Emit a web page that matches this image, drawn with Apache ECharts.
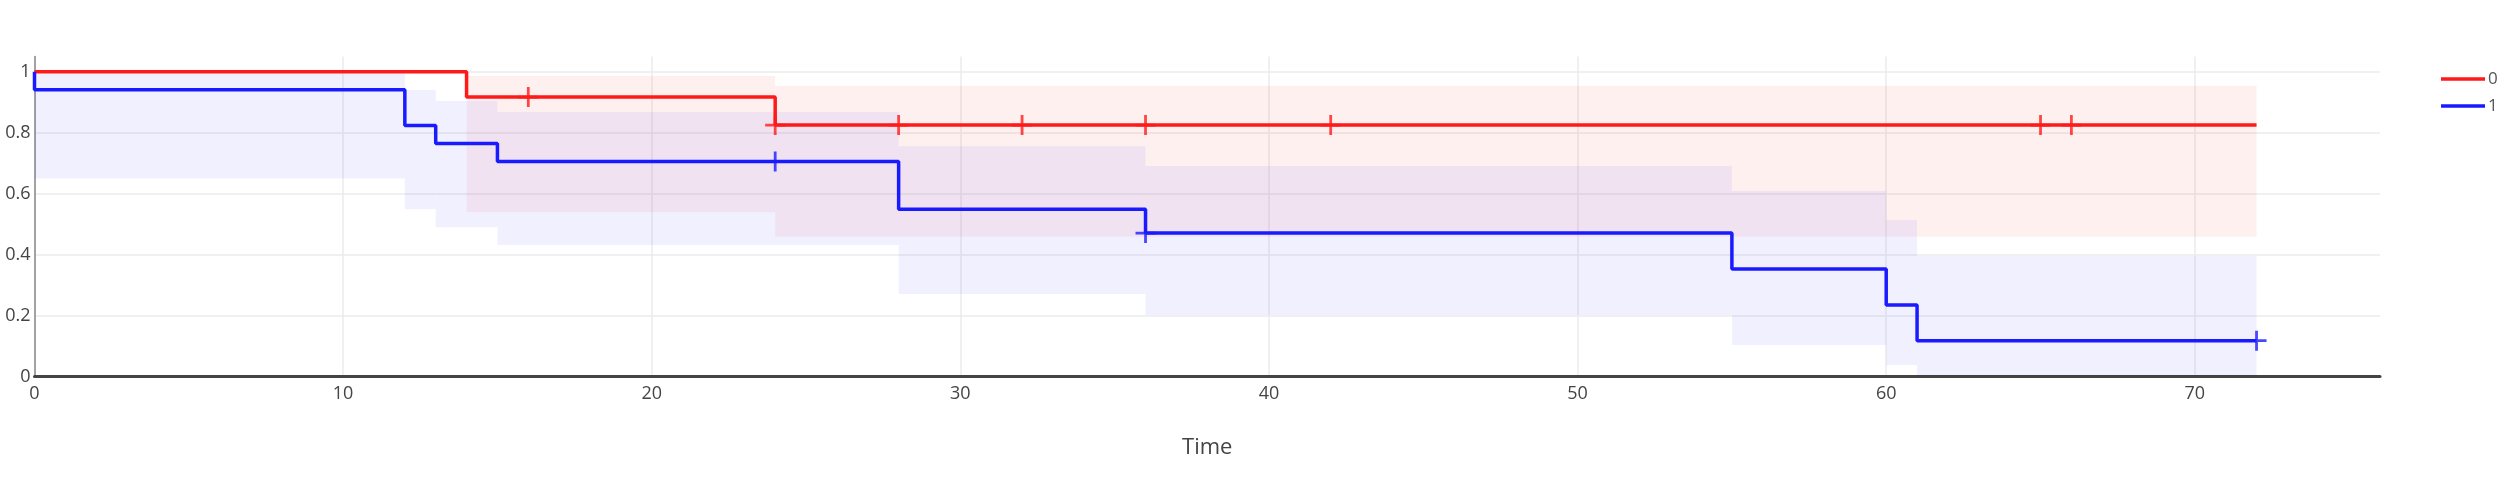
<!DOCTYPE html>
<html>
<head>
<meta charset="utf-8">
<title>Survival</title>
<script src="https://cdn.jsdelivr.net/npm/echarts@6/dist/echarts.min.js"></script>
<style>
  html, body { margin: 0; padding: 0; background: #fff; }
  #chart { width: 2500px; height: 494px; }
</style>
</head>
<body>
<div id="chart"></div>
<script>
// group 0 (red)
const timesRed = [0, 14, 24, 72];
const survRed = [1, 0.917, 0.825, 0.825];
const ciTimesRed = [0, 14, 24, 72];
const ciLowRed = [1, 0.539, 0.459];
const ciHighRed = [1, 0.986, 0.954];
const censorRed = [16, 24, 28, 32, 36, 42, 65, 66];

// group 1 (blue)
const timesBlue = [0, 0, 12, 13, 15, 28, 36, 55, 60, 61, 72];
const survBlue = [1, 0.941, 0.824, 0.765, 0.706, 0.549, 0.471, 0.353, 0.235, 0.118, 0.118];
const ciTimesBlue = [0, 12, 13, 15, 28, 36, 55, 60, 61, 72];
const ciLowBlue = [0.65, 0.549, 0.49, 0.432, 0.271, 0.202, 0.104, 0.038, 0.003];
const ciHighBlue = [0.995, 0.94, 0.904, 0.869, 0.756, 0.691, 0.61, 0.514, 0.396];
const censorBlue = [24, 36, 72];

const xTicks = [0, 10, 20, 30, 40, 50, 60, 70];
const yTicks = [0, 0.2, 0.4, 0.6, 0.8, 1];

const font = "'Open Sans', 'Noto Sans', sans-serif";
const plus = 'path://M8.6,0H11.4V8.6H20V11.4H11.4V20H8.6V11.4H0V8.6H8.6Z';

function stepValue(times, surv, t) {
    let v = surv[0];
    for (let i = 0; i < times.length; i++) {
        if (times[i] <= t) v = surv[i];
    }
    return v;
}

function bandRects(times, low, high) {
    let out = [];
    for (let i = 0; i < low.length; i++) {
        out.push([times[i], times[i + 1], low[i], high[i]]);
    }
    return out;
}

function renderBand(params, api) {
    let p0 = api.coord([api.value(0), api.value(3)]);
    let p1 = api.coord([api.value(1), api.value(2)]);
    return {
        type: 'rect',
        shape: { x: p0[0], y: p0[1], width: p1[0] - p0[0], height: p1[1] - p0[1] },
        style: { fill: api.visual('color') }
    };
}

let chart = echarts.init(document.getElementById('chart'));
chart.setOption({
    animation: false,
    grid: { left: 34.5, right: 120, top: 56.5, bottom: 117.3, containLabel: false, outerBoundsMode: 'none' },
    legend: {
        data: ['0', '1'],
        orient: 'vertical',
        left: 2436,
        top: 64,
        icon: 'rect',
        itemWidth: 44,
        itemHeight: 3.5,
        itemGap: 7,
        textStyle: { fontFamily: font, fontSize: 17, color: '#555', lineHeight: 20, padding: [0, 0, 0, -2] }
    },
    xAxis: {
        type: 'value',
        min: 0,
        max: 76,
        interval: 10,
        name: 'Time',
        nameLocation: 'middle',
        nameGap: 60,
        nameTextStyle: { fontFamily: font, fontSize: 22, color: '#444' },
        axisLine: { show: true, lineStyle: { color: '#444', width: 3 } },
        axisTick: { show: false, customValues: xTicks },
        axisLabel: { fontFamily: font, fontSize: 18, color: '#444', margin: 8, customValues: xTicks },
        splitLine: { show: true, lineStyle: { color: '#ebebeb', width: 1.5 } }
    },
    yAxis: {
        type: 'value',
        min: 0,
        max: 1.05,
        interval: 0.2,
        axisLine: { show: true, lineStyle: { color: '#888', width: 1.5 } },
        axisTick: { show: false, customValues: yTicks },
        axisLabel: { fontFamily: font, fontSize: 18, color: '#444', margin: 4, customValues: yTicks },
        splitLine: { show: true, lineStyle: { color: '#ebebeb', width: 1.5 } }
    },
    series: [
        {
            name: 'band0',
            type: 'custom',
            renderItem: renderBand,
            itemStyle: { color: 'rgba(255,0,0,0.06)' },
            encode: { x: [0, 1], y: [2, 3] },
            data: bandRects(ciTimesRed, ciLowRed, ciHighRed),
            z: 1
        },
        {
            name: 'band1',
            type: 'custom',
            renderItem: renderBand,
            itemStyle: { color: 'rgba(0,0,255,0.06)' },
            encode: { x: [0, 1], y: [2, 3] },
            data: bandRects(ciTimesBlue, ciLowBlue, ciHighBlue),
            z: 1
        },
        {
            name: '0',
            type: 'line',
            step: 'end',
            showSymbol: false,
            color: '#ff1a1a',
            lineStyle: { width: 3.5 },
            data: timesRed.map((t, i) => [t, survRed[i]]),
            z: 3
        },
        {
            name: '1',
            type: 'line',
            step: 'end',
            showSymbol: false,
            color: '#1a1aff',
            lineStyle: { width: 3.5 },
            data: timesBlue.map((t, i) => [t, survBlue[i]]),
            z: 3
        },
        {
            name: 'censor0',
            type: 'scatter',
            symbol: plus,
            symbolSize: 20,
            itemStyle: { color: '#ff1a1a' },
            data: censorRed.map(t => [t, stepValue(timesRed, survRed, t)]),
            z: 4
        },
        {
            name: 'censor1',
            type: 'scatter',
            symbol: plus,
            symbolSize: 20,
            itemStyle: { color: '#1a1aff' },
            data: censorBlue.map(t => [t, stepValue(timesBlue, survBlue, t)]),
            z: 4
        }
    ]
});
</script>
</body>
</html>
